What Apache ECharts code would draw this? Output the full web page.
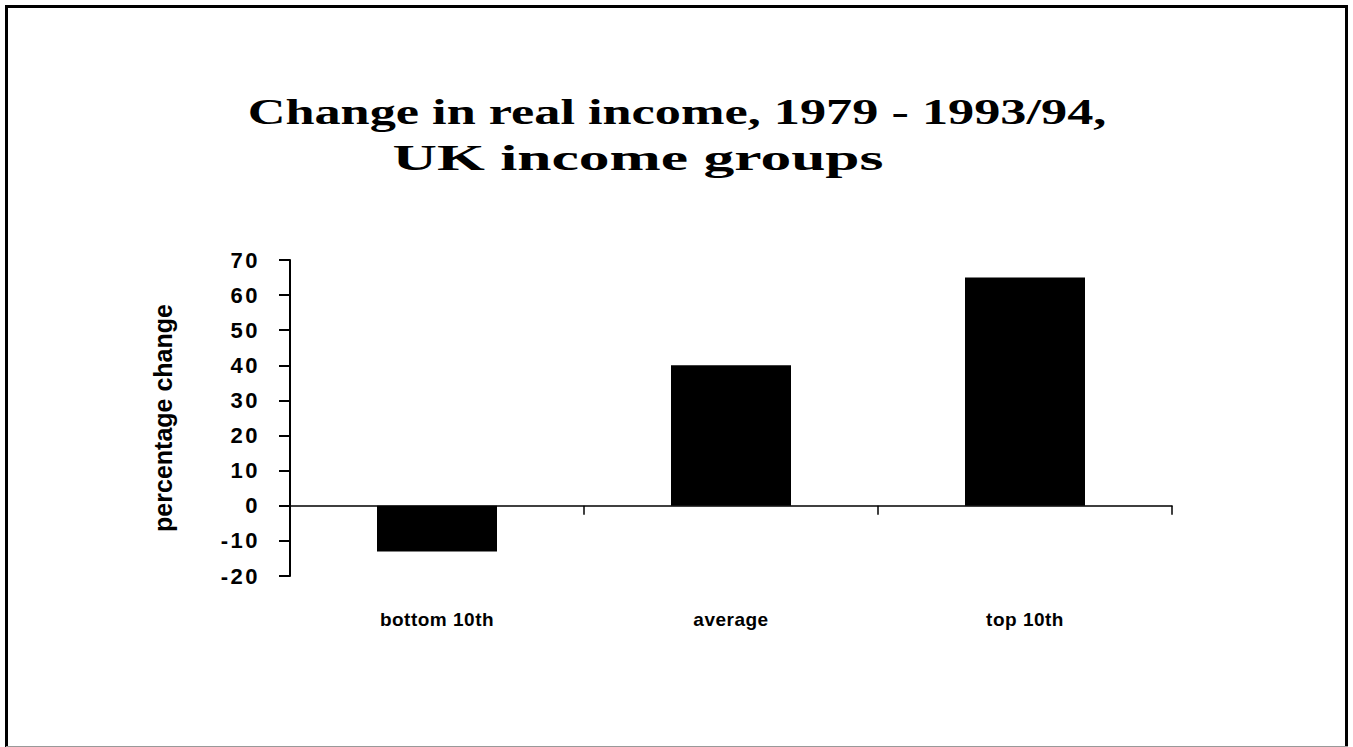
<!DOCTYPE html>
<html>
<head>
<meta charset="utf-8">
<script src="https://cdn.jsdelivr.net/npm/echarts@6/dist/echarts.min.js"></script>
<style>
  html, body { margin: 0; padding: 0; background: #fff; }
  #chart { width: 1353px; height: 747px; }
  /* spaced-out axis labels like the original slide */
  #chart text[style*="Helvetica"] { letter-spacing: 0.5px; }
  #chart text[style*="sans-serif"] { letter-spacing: 2.5px; }
</style>
</head>
<body>
<div id="chart"></div>
<script>
const categories = ["bottom 10th", "average", "top 10th"];
const changeValues = [-13, 40, 65];
const yMin = -20;
const yMax = 70;
const yStep = 10;
const titleLines = ["Change in real income, 1979 - 1993/94,", "UK income groups"];
const yName = "percentage change";

const chart = echarts.init(document.getElementById("chart"), null, { renderer: "svg" });

// the slide title is stretched sideways, so scale it to the measured widths
const titleSize = 35;
const measure = document.createElement("canvas").getContext("2d");
const stretch = (text, width) => {
  measure.font = "bold " + titleSize + "px 'Liberation Serif'";
  return width / measure.measureText(text).width;
};

const titleText = (text, x, y, width) => ({
  type: "text",
  x: x,
  y: y,
  scaleX: stretch(text, width),
  style: {
    text: text,
    fontFamily: "Liberation Serif",
    fontWeight: "bold",
    fontSize: titleSize,
    fill: "#000",
    textAlign: "center",
    textVerticalAlign: "middle",
  },
});

const option = {
  animation: false,
  backgroundColor: "#fff",
  grid: { left: 290, right: 181, top: 260, bottom: 171, containLabel: false },
  xAxis: [
    {
      type: "category",
      data: categories,
      position: "bottom",
      axisLine: { onZero: true, lineStyle: { color: "#000", width: 1.5 } },
      axisTick: { show: true, length: 9, lineStyle: { color: "#000", width: 1.5 } },
      axisLabel: { show: false },
      splitLine: { show: false },
    },
    {
      type: "category",
      data: categories,
      position: "bottom",
      axisLine: { show: false, onZero: false },
      axisTick: { show: false },
      splitLine: { show: false },
      axisLabel: {
        interval: 0,
        margin: 34,
        color: "#000",
        fontWeight: "bold",
        fontSize: 19,
        fontFamily: "Helvetica, Arial",
      },
    },
  ],
  yAxis: {
    type: "value",
    min: yMin,
    max: yMax,
    interval: yStep,
    name: yName,
    nameLocation: "middle",
    nameGap: 115,
    nameTextStyle: { color: "#000", fontWeight: "bold", fontSize: 25, fontFamily: "Arial" },
    axisLine: { show: true, lineStyle: { color: "#000", width: 2 } },
    axisTick: { show: true, length: 11, lineStyle: { color: "#000", width: 2 } },
    axisLabel: {
      margin: 30,
      color: "#000",
      fontWeight: "bold",
      fontSize: 22,
      fontFamily: "Liberation Sans, sans-serif",
    },
    splitLine: { show: false },
  },
  series: [
    {
      type: "bar",
      xAxisIndex: 0,
      data: changeValues,
      barWidth: 120,
      itemStyle: { color: "#000" },
    },
  ],
  graphic: [
    {
      type: "rect",
      shape: { x: 6.5, y: 6.5, width: 1340, height: 760 },
      style: { fill: "none", stroke: "#000", lineWidth: 3 },
      silent: true,
    },
    {
      type: "line",
      shape: { x1: 6, y1: 746.5, x2: 1348, y2: 746.5 },
      style: { stroke: "#999", lineWidth: 1 },
      silent: true,
    },
    titleText(titleLines[0], 677, 112, 859),
    titleText(titleLines[1], 638, 158, 491),
  ],
};

chart.setOption(option);
</script>
</body>
</html>
